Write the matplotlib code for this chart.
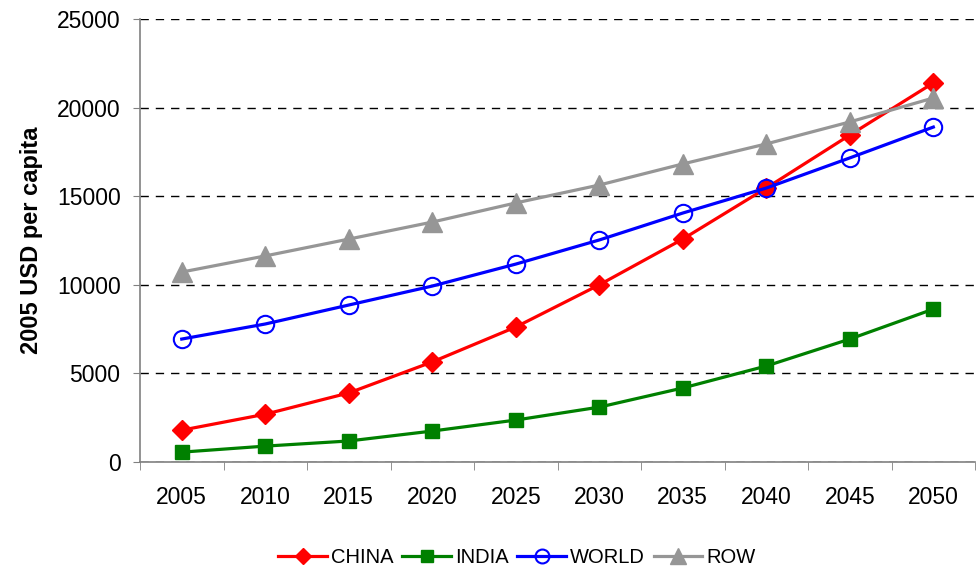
import matplotlib
matplotlib.use("Agg")
import matplotlib.pyplot as plt

years = ["2005", "2010", "2015", "2020", "2025", "2030", "2035", "2040", "2045", "2050"]
china = [1800, 2700, 3900, 5650, 7620, 10000, 12580, 15460, 18450, 21390]
india = [560, 900, 1190, 1750, 2370, 3100, 4180, 5420, 6940, 8630]
world = [6940, 7790, 8860, 9930, 11170, 12530, 14050, 15460, 17160, 18900]
row = [10720, 11630, 12580, 13540, 14620, 15630, 16820, 17950, 19190, 20540]

plt.rcParams['font.family'] = ['Liberation Sans', 'DejaVu Sans']

fig = plt.figure(figsize=(9.79, 5.74), dpi=100)
ax = fig.add_axes([0.143, 0.195, 0.853, 0.772])

x = list(range(len(years)))
ax.plot(x, china, color='#ff0000', lw=2.3, marker='D', ms=10, mfc='#ff0000', mec='#ff0000', mew=1, label='CHINA', zorder=3)
ax.plot(x, india, color='#008000', lw=2.3, marker='s', ms=10.5, mfc='#008000', mec='#008000', mew=1, label='INDIA', zorder=3)
ax.plot(x, world, color='#0000ff', lw=2.3, marker='o', ms=12.5, mfc='none', mec='#0000ff', mew=1.5, label='WORLD', zorder=3)
ax.plot(x, row, color='#969696', lw=2.3, marker='^', ms=14, mfc='#969696', mec='#969696', mew=1, label='ROW', zorder=3)

ax.set_xlim(-0.5, len(years) - 0.5)
ax.set_ylim(0, 25000)
ax.set_yticks(range(0, 25001, 5000))
ax.set_xticks(x)
ax.set_xticklabels(years)
ax.set_xticks([i - 0.5 for i in range(len(years) + 1)], minor=True)
ax.tick_params(axis='x', which='major', length=0, pad=17, labelsize=16.5)
ax.tick_params(axis='x', which='minor', length=6, color='#808080', direction='out')
ax.tick_params(axis='y', length=5, color='#808080', direction='out', labelsize=16.5, pad=9)

ax.yaxis.grid(True, linestyle=(0, (6, 5)), color='black', lw=1)
ax.set_axisbelow(True)
for s in ['top', 'right']:
    ax.spines[s].set_visible(False)
for s in ['left', 'bottom']:
    ax.spines[s].set_color('#808080')
    ax.spines[s].set_linewidth(1.2)

ax.set_ylabel('2005 USD per capita', fontsize=17, fontweight='bold', labelpad=10)

fig.legend(loc='lower center', bbox_to_anchor=(0.528, -0.02), ncol=4, frameon=False,
           fontsize=14.5, handlelength=2.4, handletextpad=0.2, columnspacing=0.45, markerscale=0.8)

fig.savefig('out.png', dpi=100)
